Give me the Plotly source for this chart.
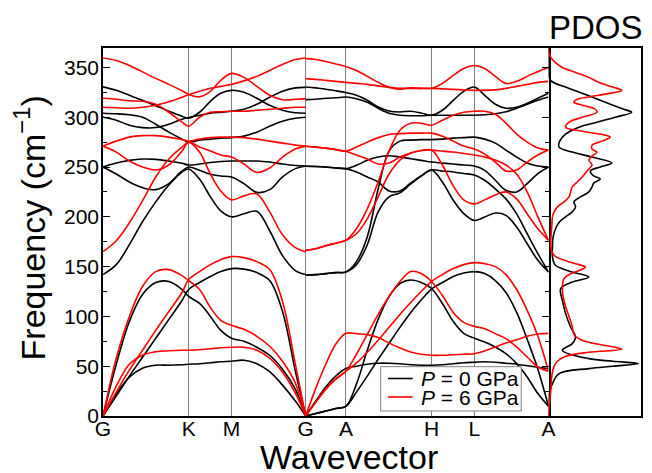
import plotly.graph_objects as go

# ---------------- path / ticks ----------------
tick_pos = [0, 1.0, 1.5, 2.366, 2.836, 3.836, 4.336, 5.202]
tick_txt = ["G", "K", "M", "G", "A", "H", "L", "A"]
freq_ticks = [0, 50, 100, 150, 200, 250, 300, 350]
legend_names = ["<i>P</i> = 0 GPa", "<i>P</i> = 6 GPa"]

# k samples, segment G-K-M-G and G-A-H-L-A
k_left = [0, 0.155, 0.308, 0.461, 0.616, 0.769, 0.923, 1.0, 1.127, 1.254, 1.375, 1.5,
          1.646, 1.796, 1.946, 2.096, 2.246, 2.366]
k_right = [2.366, 2.485, 2.601, 2.717, 2.836, 2.959, 3.086, 3.213, 3.340, 3.467, 3.594, 3.715,
           3.836, 3.963, 4.090, 4.212, 4.336, 4.457, 4.581, 4.705, 4.830, 4.953, 5.078, 5.202]

# ---------------- P = 0 GPa, G-K-M-G ----------------
p0_L1 = [0, 22, 39, 48, 51, 51, 51.5, 52, 52.5, 53.5, 54.5, 55, 56, 52.5, 44.5, 31, 15, 0]
p0_L2 = [0, 20, 40, 59, 78, 97, 116, 127, 134, 140, 145, 148, 147.5, 144, 136, 105, 45, 0]
p0_L3 = [0, 52, 95, 122, 134, 135, 127, 120, 113, 100, 86, 78, 75, 69, 61, 47, 27, 0]
p0_L4 = [142, 152, 172, 195, 215, 232, 245, 248, 238, 220, 206, 200, 203, 205.5, 186, 161, 146, 142]
p0_L5 = [250, 243, 235, 229.3, 227.3, 233.3, 246, 250, 246.7, 242.7, 241, 240, 233.3, 224.5, 227.3, 240, 248.4, 251]
p0_L6 = [250, 254, 256.7, 258, 257.7, 256, 253.7, 252, 253, 254.5, 255.5, 256, 256, 256, 255, 253, 251.5, 251]
p0_L7 = [300, 297, 292, 289.6, 289.6, 293, 298, 299.6, 302, 304, 305, 306, 308, 313, 320, 326, 329.5, 330]
p0_L8 = [304, 303.5, 302.5, 300, 293, 285, 278, 275, 277, 278, 279, 279.5, 281, 285, 291, 296, 299, 300]
p0_L9 = [330.5, 327, 322, 317, 311.5, 306, 301, 299, 305, 316, 324, 327, 325, 319, 312, 307, 304.5, 304]

# ---------------- P = 6 GPa, G-K-M-G ----------------
p6_L1 = [0, 30, 52, 61, 64.5, 65.5, 66, 66, 66.5, 67.5, 68.5, 69, 69, 66, 58, 44, 23, 0]
p6_L2 = [0, 24, 46, 66, 86, 105, 124, 137, 145, 152, 157, 160, 159, 155, 147, 115, 52, 0]
p6_L3 = [0, 58, 100, 130, 145, 147, 141, 136, 127, 109, 96, 91, 87, 80, 70, 55, 33, 0]
p6_L4 = [165, 176, 194, 216, 240, 258, 270, 275, 265, 243, 226, 217, 221, 223, 205, 182, 169, 165]
p6_L5 = [271, 265, 256, 250, 247, 252, 266, 275, 270, 266, 262, 260, 253, 244.5, 249, 260, 268, 271]
p6_L6 = [271, 276, 280, 281.5, 281.5, 280, 277.5, 276, 278, 279.5, 280, 280, 279.5, 278, 276, 274, 272, 271]
p6_L7 = [319, 318, 316.5, 316, 313, 305, 295, 291, 300, 305, 305.5, 306, 306, 307, 308, 309, 310, 310]
p6_L8 = [310, 309.5, 309, 310, 312, 315.5, 320, 322.5, 326, 329, 331, 333, 336.5, 341, 347, 353, 358, 359.5]
p6_L9 = [359.5, 357, 352, 345.5, 339, 333, 326.5, 323, 320.5, 326, 337, 344, 340, 331, 322, 317.5, 318, 318.7]

# ---------------- P = 0 GPa, G-A-H-L-A ----------------
p0_R1 = [0, 2.5, 5, 7.5, 9.7, 32, 66, 97, 120, 133, 136.5, 134, 128, 113, 95, 83, 78, 74.3, 69.3, 62.6, 52.6, 39.2, 22.5, 9.7]
p0_R2 = [0, 2.5, 5, 7.5, 9.7, 24, 40, 57, 73, 89, 104, 116.5, 127.5, 134, 140, 143.5, 145, 143, 136, 124, 104, 77, 47, 9.7]
p0_R3 = [0, 15, 29, 40, 47.6, 50, 52, 53, 53, 52.5, 51.5, 51, 51, 51.5, 52.5, 53.5, 54, 54.5, 54, 53, 52, 50.5, 49, 47.6]
p0_R4 = [141.5, 142, 143, 144, 144.6, 152, 172, 205, 220, 224, 233, 241, 247, 235, 216.6, 203.2, 196.3, 199.8, 203.8, 201.5, 189.8, 173, 156.3, 144.6]
p0_R5 = [250.7, 250.5, 250, 249, 248.4, 245, 240, 235, 226, 226, 234, 241, 247, 246, 245, 243.5, 242, 236.7, 228, 218, 203, 183, 163, 144.6]
p0_R6 = [250.7, 250.5, 250, 249, 248.4, 251.7, 256.7, 260, 261.3, 260, 258.3, 256.7, 255, 254, 253, 252, 251, 246.7, 236.7, 226.6, 225, 233.3, 243.4, 250]
p0_R7 = [141.5, 142, 143, 144, 144.6, 155, 180, 228, 266, 276, 277, 277.5, 277.5, 278, 279, 279.5, 280, 278, 274, 267, 260, 254, 251, 250]
p0_R8 = [317.7, 318, 319, 319.5, 320.3, 318.5, 315, 309, 304, 302, 301.5, 301.5, 302, 302, 302, 302, 302, 302.5, 303.5, 305.5, 309, 313, 317, 320.3]
p0_R9 = [330.3, 329.5, 328, 326.5, 324.7, 322, 317, 310.3, 306.3, 305.3, 306, 304.2, 302, 307, 317, 326, 330.3, 322, 313, 309, 310, 314, 319, 324]

# ---------------- P = 6 GPa, G-A-H-L-A ----------------
p6_R1 = [0, 14, 27, 37, 45, 62, 82, 102, 120, 135, 145, 143, 135, 121, 104, 94, 90, 87.7, 82.7, 77.7, 69.3, 59.2, 49.2, 45]
p6_R2 = [0, 14, 27, 37, 45, 53, 64, 76, 89, 102, 114, 125, 135, 142, 148, 152, 154, 153, 150, 142, 127, 106, 80, 45]
p6_R3 = [0, 28, 52, 72, 83, 82.7, 81.7, 78.7, 73.3, 68.3, 64.3, 62, 61, 61, 61.5, 62, 62.5, 65.3, 69.3, 73.3, 76.6, 80, 82.3, 83]
p6_R4 = [166.4, 168, 171, 173.5, 176.4, 183, 198, 220, 243, 257, 264, 266.5, 267, 252, 231, 217, 213, 217, 222, 225, 218, 203, 188, 176.4]
p6_R5 = [270.8, 270, 269, 267.5, 265.8, 262, 258, 253, 254, 260, 264, 266.5, 267, 266, 265, 263.5, 262, 260, 257, 252, 243, 225, 200, 176.4]
p6_R6 = [270.8, 270, 269, 267.5, 265.8, 270, 275, 279.5, 282.6, 283.5, 284, 284, 284, 281, 276, 271, 268, 263, 255, 246, 247, 255, 262, 267]
p6_R7 = [166.4, 168, 171, 173.5, 176.4, 188, 208, 235, 266, 287, 294, 294, 292, 297, 302, 305, 306, 306, 303, 294, 283, 275, 269, 267]
p6_R8 = [338.7, 338, 337, 336, 335, 334, 333, 331.5, 330, 329, 329, 329, 329, 328.5, 328, 327.5, 327, 327, 327.5, 329, 331, 333, 335, 336]
p6_R9 = [358.8, 358, 356, 353.5, 351, 347, 341, 335, 330, 328, 329.5, 329, 329, 334, 342, 349, 352, 349, 341, 334, 336, 341, 346, 350]

# ---------------- PDOS (arbitrary units) ----------------
pdos0_freq = [0, 10, 22.5, 32.5, 42.6, 47.6, 50, 52.6, 55, 57.6, 66, 72.7, 79.3, 89.4, 102.8, 116, 128,
              134.5, 139.6, 144.6, 151.3, 160, 170, 180, 190, 195, 200, 205, 210, 215, 220, 225, 230,
              234, 238, 241, 246, 250, 254, 260, 265, 270, 276, 283, 290, 295, 300, 305, 308, 314,
              322, 330, 337, 345, 370]
pdos0_val = [0, 0.3, 0.7, 4, 10.7, 40.7, 65, 90.7, 65, 40.7, 14, 24, 27.3, 22.3, 17.3, 14, 12.3,
             24, 40.7, 24, 7, 4, 4, 4.7, 8, 11.3, 17.3, 24, 27.3, 25.7, 32.3, 40.7, 44,
             45.7, 52.3, 45.7, 42.3, 52.3, 64, 44, 24, 10.7, 11.3, 17.3, 30.7, 49, 67.3, 84, 76, 60,
             39.5, 18, 2, 0, 0]
pdos6_freq = [0, 10, 25, 40, 50, 55, 60, 64, 67, 69, 72, 76, 82, 90, 100, 110, 120, 130, 138, 142,
              146, 149.6, 152, 156, 160, 165, 175, 190, 200, 205, 210, 215, 220, 225, 230, 235, 240,
              244, 248, 252, 257, 261, 265, 268, 272, 276, 280, 282, 286, 290, 295, 300, 305, 308,
              312, 315, 318, 322, 327, 330, 335, 340, 345, 350, 355, 360, 367, 370]
pdos6_val = [0, 0.7, 2.3, 3.3, 5.7, 9, 17.3, 40.7, 74, 67.3, 50.7, 34, 25.7, 24, 20.7, 17.3, 14.7, 14,
             15.7, 20.7, 30.7, 37.3, 30.7, 17.3, 7.3, 3.3, 2.3, 3.3, 4, 5.7, 9, 15.7, 20.7, 22.3, 24,
             29, 34, 37.3, 40.7, 44, 40.7, 44, 49, 44, 44, 54, 62.3, 57.3, 34, 17.3, 20.7, 34, 49,
             47.3, 34.3, 25.7, 29, 50.7, 74, 65.7, 50.7, 40.7, 27.3, 14, 6.7, 2.3, 0, 0]

BLACK = "#000000"
RED = "#ff0000"
LW = 1.6

groups = [
    (BLACK, legend_names[0],
     [p0_L1, p0_L2, p0_L3, p0_L4, p0_L5, p0_L6, p0_L7, p0_L8, p0_L9],
     [p0_R1, p0_R2, p0_R3, p0_R4, p0_R5, p0_R6, p0_R7, p0_R8, p0_R9],
     pdos0_freq, pdos0_val),
    (RED, legend_names[1],
     [p6_L1, p6_L2, p6_L3, p6_L4, p6_L5, p6_L6, p6_L7, p6_L8, p6_L9],
     [p6_R1, p6_R2, p6_R3, p6_R4, p6_R5, p6_R6, p6_R7, p6_R8, p6_R9],
     pdos6_freq, pdos6_val),
]

fig = go.Figure()
for color, name, left, right, pf, pv in groups:
    for band in left:
        fig.add_trace(go.Scatter(x=k_left, y=band, mode="lines", name=name, showlegend=False,
                                 line=dict(color=color, width=LW, shape="spline"),
                                 xaxis="x", yaxis="y"))
    for band in right:
        fig.add_trace(go.Scatter(x=k_right, y=band, mode="lines", name=name, showlegend=False,
                                 line=dict(color=color, width=LW, shape="spline"),
                                 xaxis="x", yaxis="y"))
    fig.add_trace(go.Scatter(x=pv, y=pf, mode="lines", name=name, showlegend=False,
                             line=dict(color=color, width=LW, shape="spline"),
                             xaxis="x2", yaxis="y2"))

YMAX = 369.5
L_PX, R_PX, T_PX, B_PX = 103, 648, 48, 416
PW, PH = R_PX - L_PX, B_PX - T_PX
split = (554.3 - L_PX) / PW


def px(xp):
    return (xp - L_PX) / PW


def py(yp):
    return (B_PX - yp) / PH


# manual legend (box, line samples, labels)
shapes = [
    dict(type="rect", xref="paper", yref="paper", x0=px(384.3), x1=px(526.7), y0=py(411), y1=py(366.7),
         fillcolor="white", line=dict(color="#808080", width=1), layer="above"),
]
annotations = []
for i, (color, name) in enumerate([(BLACK, legend_names[0]), (RED, legend_names[1])]):
    yy = py(378.5 + i * 18.5)
    shapes.append(dict(type="line", xref="paper", yref="paper", x0=px(391.7), x1=px(416.7),
                       y0=yy, y1=yy, line=dict(color=color, width=LW), layer="above"))
    annotations.append(dict(text=name, x=px(423.5), y=yy, xref="paper", yref="paper",
                            showarrow=False, xanchor="left", yanchor="middle",
                            font=dict(size=21)))

annotations += [
    dict(text="Wavevector", x=px(351.7), y=py(457), xref="paper", yref="paper",
         showarrow=False, xanchor="center", yanchor="middle", font=dict(size=34)),
    dict(text="Frequency (cm<sup>\u22121</sup>)", x=px(29.5), y=py(228),
         xref="paper", yref="paper", showarrow=False, textangle=-90,
         xanchor="center", yanchor="middle", font=dict(size=34)),
    dict(text="PDOS", x=px(602.5), y=py(28), xref="paper", yref="paper",
         showarrow=False, xanchor="center", yanchor="middle", font=dict(size=33)),
]

fig.update_layout(
    width=652, height=473,
    margin=dict(l=L_PX, r=652 - R_PX, t=T_PX, b=473 - B_PX),
    paper_bgcolor="white", plot_bgcolor="white",
    showlegend=False,
    font=dict(family="Liberation Sans, Arial, sans-serif", color="black", size=21),
    xaxis=dict(domain=[0, split], range=[0, 5.202], tickmode="array", tickvals=tick_pos,
               ticktext=tick_txt, showgrid=True, gridcolor="#808080", gridwidth=1, ticks="",
               showline=True, mirror=True, linecolor="black", linewidth=1.5, zeroline=False,
               tickfont=dict(size=21), ticklabelstandoff=-7),
    yaxis=dict(range=[0, YMAX], tickmode="array", tickvals=freq_ticks,
               ticks="inside", ticklen=7, tickwidth=1.2, tickcolor="black",
               minor=dict(ticks="inside", ticklen=4, tickwidth=1.2, tickcolor="black",
                          tickmode="array", tickvals=[25, 75, 125, 175, 225, 275, 325]),
               showline=True, mirror="allticks", linecolor="black", linewidth=1.5,
               showgrid=False, zeroline=False, tickfont=dict(size=21), ticklabelstandoff=-2),
    xaxis2=dict(domain=[split, 1], range=[0, 93.4], anchor="y2", showticklabels=False, ticks="",
                showline=True, mirror=True, linecolor="black", linewidth=1.5, showgrid=False,
                zeroline=False),
    yaxis2=dict(range=[0, YMAX], anchor="x2", side="right", showticklabels=False, ticks="",
                showline=True, mirror=False, linecolor="black", linewidth=1.5, showgrid=False,
                zeroline=False),
    shapes=shapes,
    annotations=annotations,
)

fig.write_html("out.html")
